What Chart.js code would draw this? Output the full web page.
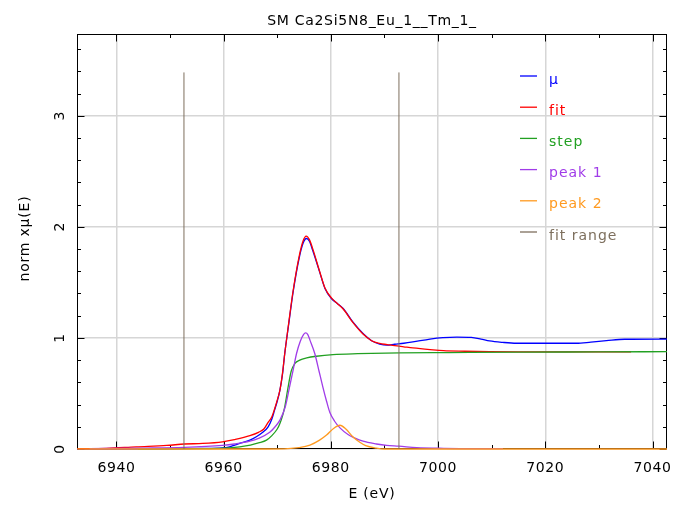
<!DOCTYPE html>
<html><head><meta charset="utf-8">
<script src="https://cdn.jsdelivr.net/npm/chart.js@4.4.1/dist/chart.umd.min.js"></script>
<style>html,body{margin:0;padding:0;background:#fff;}canvas{display:block;}</style>
</head><body>
<canvas id="c" width="674" height="505"></canvas>
<script>
const chartTitle = 'SM Ca2Si5N8_Eu_1__Tm_1_';
const xTitle = 'E (eV)';
const yTitle = 'norm xμ(E)';
const xTicks = [6940, 6960, 6980, 7000, 7020, 7040];
const yTicks = [0, 1, 2, 3];
const xMin = 6932.65, xMax = 7042.7, yMin = 0, yMax = 3.736;

const muE = [6932.7, 6940, 6950, 6956, 6959.8, 6961.1, 6963.0, 6964.9, 6966.1, 6967.3, 6968.3, 6969.0, 6969.5, 6970.0, 6970.5, 6971.0, 6971.4, 6972.1, 6972.95, 6974.07, 6974.8, 6975.45, 6976.0, 6976.7, 6977.9, 6978.9, 6980.1, 6981.2, 6982.3, 6984.1, 6986.0, 6987.6, 6989.1, 6990.5, 6991.9, 6993.6, 6995.3, 6998.5, 7000.9, 7003.5, 7006.2, 7008.0, 7009.6, 7012.0, 7014.6, 7020.0, 7025.8, 7028.5, 7031.4, 7034.8, 7042.7];
const muY = [0.0, 0.0, 0.002, 0.005, 0.01, 0.02, 0.05, 0.08, 0.11, 0.15, 0.2, 0.27, 0.35, 0.43, 0.53, 0.68, 0.86, 1.11, 1.41, 1.715, 1.85, 1.895, 1.87, 1.775, 1.595, 1.445, 1.355, 1.31, 1.265, 1.144, 1.04, 0.975, 0.945, 0.935, 0.943, 0.952, 0.964, 0.99, 1.003, 1.008, 1.005, 0.99, 0.973, 0.96, 0.952, 0.952, 0.952, 0.962, 0.975, 0.988, 0.99];

const fitE = [6932.7, 6938.1, 6943.7, 6949.4, 6952.7, 6956.1, 6959.8, 6962.0, 6964.9, 6966.5, 6967.5, 6968.3, 6969.0, 6969.5, 6970.0, 6970.5, 6971.0, 6971.4, 6972.1, 6972.95, 6974.07, 6974.8, 6975.4, 6976.0, 6976.7, 6977.9, 6978.9, 6980.1, 6981.2, 6982.3, 6984.1, 6986.0, 6987.6, 6989.1, 6990.5, 6991.9, 6993.6, 6995.3, 6998.5, 7001.0, 7005.0, 7009.6, 7015.0, 7036.0];
const fitY = [0.003, 0.006, 0.02, 0.032, 0.045, 0.05, 0.065, 0.085, 0.12, 0.15, 0.18, 0.24, 0.29, 0.36, 0.44, 0.53, 0.69, 0.86, 1.12, 1.42, 1.73, 1.87, 1.916, 1.885, 1.79, 1.60, 1.45, 1.36, 1.31, 1.26, 1.14, 1.035, 0.975, 0.95, 0.94, 0.93, 0.92, 0.91, 0.895, 0.885, 0.88, 0.876, 0.874, 0.874];

const stepE = [6944.0, 6955.0, 6960.0, 6963.0, 6965.0, 6966.5, 6968.0, 6969.0, 6970.0, 6970.5, 6971.0, 6971.4, 6972.0, 6972.6, 6973.3, 6974.2, 6975.5, 6977.3, 6980.4, 6985.0, 6992.9, 7002.0, 7015.0, 7030.0, 7042.7];
const stepY = [0.0, 0.003, 0.008, 0.02, 0.035, 0.055, 0.08, 0.12, 0.18, 0.23, 0.3, 0.38, 0.55, 0.7, 0.77, 0.8, 0.82, 0.835, 0.85, 0.858, 0.865, 0.868, 0.872, 0.874, 0.876];

const peak1E = [6935.0, 6945.0, 6952.7, 6959.8, 6962.0, 6964.9, 6966.5, 6968.6, 6969.6, 6970.5, 6971.5, 6972.3, 6973.0, 6973.6, 6974.3, 6974.9, 6975.3, 6975.7, 6976.1, 6977.0, 6977.8, 6978.5, 6979.2, 6979.8, 6980.7, 6981.7, 6983.2, 6984.4, 6986.0, 6988.5, 6990.4, 6992.7, 6996.0, 7001.0, 7012.1];
const peak1Y = [0.003, 0.008, 0.015, 0.033, 0.045, 0.07, 0.095, 0.15, 0.2, 0.26, 0.38, 0.56, 0.72, 0.86, 0.97, 1.03, 1.045, 1.03, 0.98, 0.86, 0.7, 0.56, 0.43, 0.33, 0.25, 0.19, 0.13, 0.1, 0.07, 0.045, 0.032, 0.025, 0.012, 0.006, 0.003];

const peak2E = [6932.7, 6968.0, 6972.0, 6974.0, 6976.1, 6977.9, 6979.2, 6980.5, 6981.7, 6982.8, 6984.1, 6985.4, 6986.5, 6988.5, 6990.0, 7042.7];
const peak2Y = [0, 0, 0.003, 0.012, 0.035, 0.08, 0.125, 0.185, 0.214, 0.18, 0.11, 0.06, 0.03, 0.008, 0, 0];

const fitRangeE = [6952.6, 6992.7];
const fitRangeTop = 3.39;

const seriesNames = ['μ', 'fit', 'step', 'peak 1', 'peak 2', 'fit range'];
const seriesColors = ['#0000ff', '#ff0000', '#22a022', '#a03ce8', '#ff9a20', '#7d6f5d'];

const zip = (xs, ys) => xs.map((x, i) => ({x: x, y: ys[i]}));
const rangePts = [];
fitRangeE.forEach((e, i) => {
  if (i > 0) rangePts.push({x: (fitRangeE[i-1] + e) / 2, y: null});
  rangePts.push({x: e, y: 0});
  rangePts.push({x: e, y: fitRangeTop});
});

const seriesData = [zip(muE, muY), zip(fitE, fitY), zip(stepE, stepY), zip(peak1E, peak1Y), zip(peak2E, peak2Y), rangePts];

const datasets = seriesData.map((d, i) => ({
  label: seriesNames[i],
  data: d,
  borderColor: seriesColors[i],
  backgroundColor: seriesColors[i],
  borderWidth: i === 5 ? 1 : 1.3,
  pointRadius: 0,
  fill: false,
  spanGaps: false,
  tension: 0,
  clip: 2,
  cubicInterpolationMode: i === 5 ? 'default' : 'monotone',
  order: seriesData.length - i
}));

const FONT = '14px "DejaVu Sans"';
function drawText(ctx, s, x, y, color, rot, spacing) {
  ctx.save();
  ctx.translate(x, y);
  if (rot) ctx.rotate(rot);
  ctx.font = FONT;
  ctx.fillStyle = color;
  ctx.textAlign = 'center';
  ctx.textBaseline = 'middle';
  if ('letterSpacing' in ctx) ctx.letterSpacing = (spacing || 0) + 'px';
  ctx.fillText(s, 0, 0);
  ctx.restore();
}

const decor = {
  id: 'decor',
  beforeDatasetsDraw(chart) {
    const ctx = chart.ctx, a = chart.chartArea, xs = chart.scales.x, ys = chart.scales.y;
    ctx.save();
    ctx.strokeStyle = '#000';
    ctx.lineWidth = 1;
    const L = Math.round(a.left) + 0.5, R = Math.round(a.right) - 0.5;
    const T = Math.round(a.top) + 0.5, B = Math.round(a.bottom) - 0.5;
    ctx.strokeRect(L, T, R - L, B - T);
    ctx.beginPath();
    for (let v = Math.ceil(xs.min / 10) * 10; v <= xs.max; v += 10) {
      const px = Math.round(xs.getPixelForValue(v)) + 0.5;
      const len = (v % 20 === 0) ? 7 : 3.5;
      ctx.moveTo(px, B); ctx.lineTo(px, B - len);
      ctx.moveTo(px, T); ctx.lineTo(px, T + len);
    }
    for (let k = 0; k * 0.2 <= ys.max + 1e-9; k++) {
      const py = Math.round(ys.getPixelForValue(k * 0.2)) + 0.5;
      const len = (k % 5 === 0) ? 7 : 3.5;
      ctx.moveTo(L, py); ctx.lineTo(L + len, py);
      ctx.moveTo(R, py); ctx.lineTo(R - len, py);
    }
    ctx.stroke();
    ctx.restore();
  },
  afterDraw(chart) {
    const ctx = chart.ctx, a = chart.chartArea, xs = chart.scales.x, ys = chart.scales.y;
    xTicks.forEach(v => drawText(ctx, String(v), xs.getPixelForValue(v), 468, '#000', 0, 0.6));
    yTicks.forEach(v => drawText(ctx, String(v), 60, ys.getPixelForValue(v), '#000', -Math.PI / 2, 0.6));
    const cx = (a.left + a.right) / 2;
    drawText(ctx, xTitle, cx, 494, '#000', 0, 0.8);
    drawText(ctx, yTitle, 25, (a.top + a.bottom) / 2 - 3, '#000', -Math.PI / 2, 0.8);
    drawText(ctx, chartTitle, cx, 21, '#000', 0, 0.7);

    chart.data.datasets.forEach((ds, i) => {
      const y = 76 + i * 31.2;
      ctx.save();
      ctx.strokeStyle = ds.borderColor;
      ctx.lineWidth = 1.3;
      ctx.beginPath();
      ctx.moveTo(520, y); ctx.lineTo(537, y);
      ctx.stroke();
      ctx.font = FONT;
      ctx.fillStyle = ds.borderColor;
      ctx.textAlign = 'left';
      ctx.textBaseline = 'middle';
      if ('letterSpacing' in ctx) ctx.letterSpacing = '1px';
      ctx.fillText(ds.label, 549, y + 4);
      ctx.restore();
    });
  }
};

new Chart(document.getElementById('c'), {
  type: 'line',
  data: { datasets: datasets },
  options: {
    responsive: false,
    devicePixelRatio: 1,
    animation: false,
    layout: { padding: { left: 0, right: 7, top: 34, bottom: 0 } },
    plugins: { legend: { display: false }, title: { display: false }, tooltip: { enabled: false } },
    scales: {
      x: {
        type: 'linear', min: xMin, max: xMax,
        ticks: { display: false, stepSize: 20, includeBounds: false },
        grid: { color: '#d6d6d6', lineWidth: 1.5, drawTicks: false },
        border: { display: false },
        afterFit(s) { s.height = 56; }
      },
      y: {
        type: 'linear', min: yMin, max: yMax,
        ticks: { display: false, stepSize: 1, includeBounds: false },
        grid: { color: '#d6d6d6', lineWidth: 1.5, drawTicks: false },
        border: { display: false },
        afterFit(s) { s.width = 77; }
      }
    }
  },
  plugins: [decor]
});
</script>
</body></html>
